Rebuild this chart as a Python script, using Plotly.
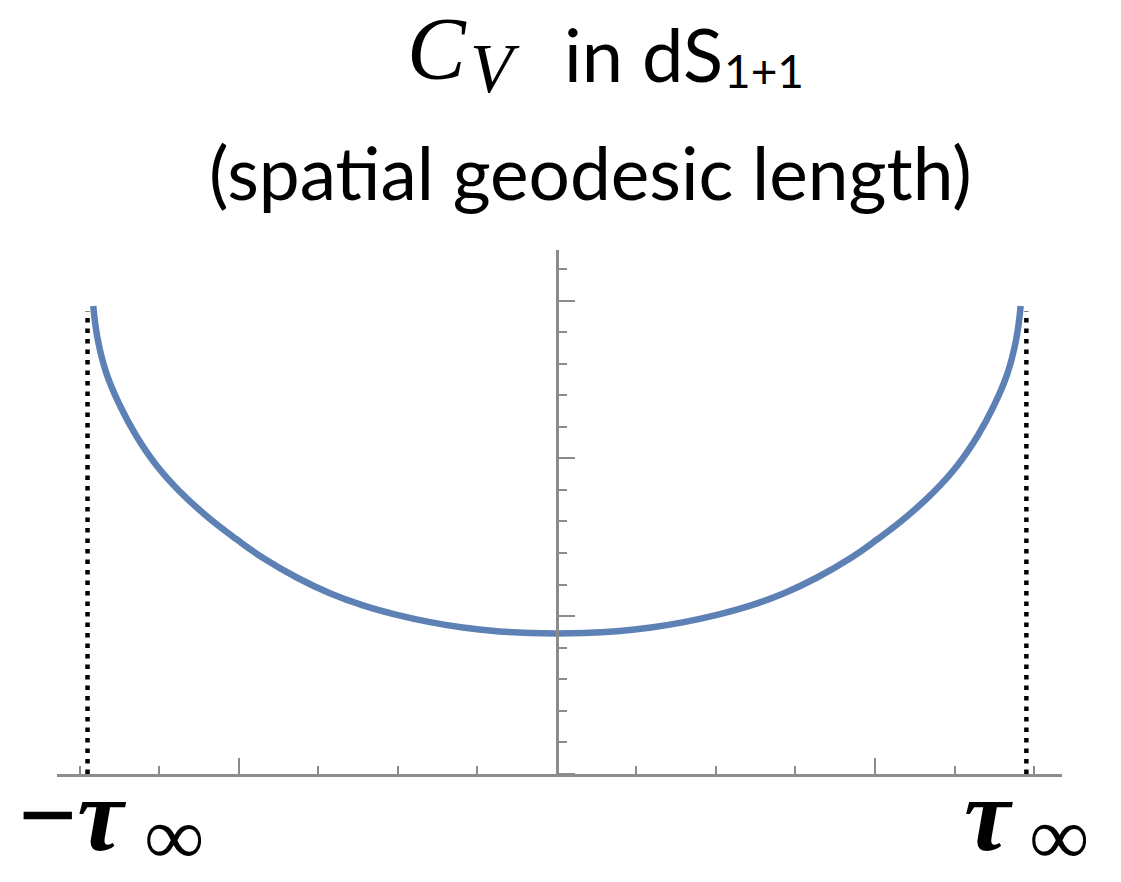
import plotly.graph_objects as go

# Spatial geodesic length C_V as a function of boundary time tau
tau = [-1.458, -1.443, -1.416, -1.373, -1.322, -1.259, -1.186, -1.102, -1.008,
       -0.925, -0.818, -0.714, -0.610, -0.503, -0.399, -0.296, -0.189, -0.085,
       0.0,
       0.085, 0.189, 0.296, 0.399, 0.503, 0.610, 0.714, 0.818, 0.925,
       1.008, 1.102, 1.186, 1.259, 1.322, 1.373, 1.416, 1.443, 1.458]
cv = [2.965, 2.744, 2.535, 2.330, 2.140, 1.955, 1.790, 1.635, 1.488,
      1.370, 1.245, 1.145, 1.068, 1.008, 0.962, 0.928, 0.905, 0.893,
      0.890,
      0.893, 0.905, 0.928, 0.962, 1.008, 1.068, 1.145, 1.245, 1.370,
      1.488, 1.635, 1.790, 1.955, 2.140, 2.330, 2.535, 2.744, 2.965]

# Limits of the time range (tau = +/- tau_inf) and height of the marker lines
tau_inf = 1.476
cv_edge = 2.93

X_RANGE = [-1.572, 1.588]
Y_RANGE = [0.0, 3.32]

W, H = 1121, 882
M_L, M_R, M_T, M_B = 57, 59, 250, 108
PW, PH = W - M_L - M_R, H - M_T - M_B

AXIS_GRAY = "#8c8c8c"
CURVE_BLUE = "#5E81B5"


def px(xp):
    return (xp - M_L) / PW


def py(yp):
    return (H - M_B - yp) / PH


fig = go.Figure()

for s in (-1, 1):
    fig.add_trace(go.Scatter(
        x=[s * tau_inf, s * tau_inf], y=[0, cv_edge], mode="lines",
        line=dict(color="black", width=4.5, dash="4.5px,6px"),
        hoverinfo="skip", showlegend=False))

fig.add_trace(go.Scatter(
    x=tau, y=cv, mode="lines",
    line=dict(color=CURVE_BLUE, width=6.5, shape="spline", smoothing=1.3),
    showlegend=False))

fig.update_layout(
    width=W, height=H,
    margin=dict(l=M_L, r=M_R, t=M_T, b=M_B, pad=0),
    paper_bgcolor="white", plot_bgcolor="white",
    xaxis=dict(range=X_RANGE, showgrid=False, zeroline=False,
               showline=True, linecolor=AXIS_GRAY, linewidth=3,
               ticks="inside", ticklen=16, tickwidth=2, tickcolor=AXIS_GRAY,
               tick0=0, dtick=1, showticklabels=False,
               minor=dict(ticks="inside", ticklen=8, tickwidth=2,
                          tickcolor=AXIS_GRAY, tick0=0, dtick=0.25,
                          showgrid=False)),
    yaxis=dict(range=Y_RANGE, showgrid=False, zeroline=False,
               anchor="free",
               position=(0 - X_RANGE[0]) / (X_RANGE[1] - X_RANGE[0]),
               side="right",
               showline=True, linecolor=AXIS_GRAY, linewidth=3,
               ticks="outside", ticklen=16, tickwidth=2, tickcolor=AXIS_GRAY,
               tick0=0, dtick=1, showticklabels=False,
               minor=dict(ticks="outside", ticklen=8, tickwidth=2,
                          tickcolor=AXIS_GRAY, tick0=0, dtick=0.2,
                          showgrid=False)),
)

SANS = "Lato"
SERIF = "Liberation Serif"


def label(text, x, y, family, size, xanchor="left"):
    fig.add_annotation(text=text, x=px(x), y=py(y), xref="paper", yref="paper",
                       xanchor=xanchor, yanchor="middle", showarrow=False,
                       font=dict(family=family, size=size, color="black"))


# Title
label("<i>C</i>", 405, 49, SERIF, 88)
label("<i>V</i>", 468, 69, SERIF, 70)
label("in dS", 562, 54, SANS, 74)
label("1+1", 722, 70, SANS, 46)
label("(spatial geodesic length)", 590, 172, SANS, 73, xanchor="center")

# Axis end labels
label("<b>−<i>τ</i></b>", 16, 814, SERIF, 104)
label("<b>∞</b>", 143, 836, SERIF, 82)
label("<b><i>τ</i></b>", 962, 814, SERIF, 104)
label("<b>∞</b>", 1028, 836, SERIF, 82)

fig.write_html("out.html")
